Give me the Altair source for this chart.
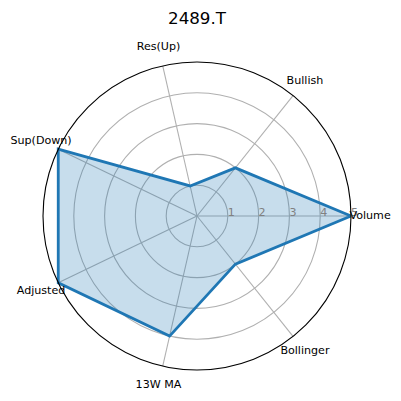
import altair as alt
import pandas as pd

categories = ["Volume", "Bullish", "Res(Up)", "Sup(Down)", "Adjusted", "13W MA", "Bollinger"]
values = [5, 2, 1, 5, 5, 4, 2]
ring_levels = [1, 2, 3, 4]
outer_level = [5]
rtick_values = [1, 2, 3, 4, 5]
rtick_labels = ["1", "2", "3", "4", "5"]
chart_title = "2489.T"

RMAX = 5
LABEL_R = 5.62
N = len(categories)
FONT = "DejaVu Sans"
BLUE = "#1f77b4"
PX_R = 154  # pixel radius of the outer circle

cat_df = pd.DataFrame({"cat": categories, "value": values, "i": list(range(N))})
poly_df = pd.concat([cat_df, cat_df.iloc[[0]].assign(i=N)], ignore_index=True)
rings_df = pd.DataFrame({"r": ring_levels})
outer_df = pd.DataFrame({"r": outer_level})
rtick_df = pd.DataFrame({"r": rtick_values, "lab": rtick_labels})

xs = alt.Scale(domain=[-RMAX, RMAX], nice=False, zero=False)
ys = alt.Scale(domain=[-RMAX, RMAX], nice=False, zero=False)
# circle symbol: diameter = sqrt(size)  ->  size = (2 * radius_px)^2
ss = alt.Scale(type="pow", exponent=2, domain=[0, RMAX], range=[0, (2 * PX_R) ** 2], zero=True, nice=False)

ang = f"datum.i * 2 * PI / {N}"


def ring_layer(df, color):
    return alt.Chart(df).transform_calculate(z="0").mark_point(
        shape="circle", filled=False, color=color, strokeWidth=1.1, opacity=1
    ).encode(
        x=alt.X("z:Q", scale=xs, axis=None),
        y=alt.Y("z:Q", scale=ys, axis=None),
        size=alt.Size("r:Q", scale=ss, legend=None),
    )


rings = ring_layer(rings_df, "#b0b0b0")
outer = ring_layer(outer_df, "#000000")

spokes = alt.Chart(cat_df).transform_calculate(
    ang=ang
).transform_calculate(
    z="0", xe=f"{RMAX} * cos(datum.ang)", ye=f"{RMAX} * sin(datum.ang)"
).mark_rule(color="#b0b0b0", strokeWidth=1.1).encode(
    x=alt.X("z:Q", scale=xs, axis=None),
    y=alt.Y("z:Q", scale=ys, axis=None),
    x2="xe:Q", y2="ye:Q",
)

poly = alt.Chart(poly_df).transform_calculate(
    ang=ang
).transform_calculate(
    px="datum.value * cos(datum.ang)", py="datum.value * sin(datum.ang)"
).mark_line(color=BLUE, strokeWidth=2.8, fill=BLUE, fillOpacity=0.25, strokeJoin="miter").encode(
    x=alt.X("px:Q", scale=xs, axis=None),
    y=alt.Y("py:Q", scale=ys, axis=None),
    order="i:Q",
)

cat_labels = alt.Chart(cat_df).transform_calculate(
    ang=ang
).transform_calculate(
    lx=f"{LABEL_R} * cos(datum.ang)", ly=f"{LABEL_R} * sin(datum.ang)"
).mark_text(font=FONT, fontSize=11.1, align="center", baseline="middle", color="#000000").encode(
    x=alt.X("lx:Q", scale=xs, axis=None),
    y=alt.Y("ly:Q", scale=ys, axis=None),
    text="cat:N",
)

rticks = alt.Chart(rtick_df).transform_calculate(z="0").mark_text(
    font=FONT, fontSize=11.1, align="left", baseline="alphabetic", color="#808080", dx=0, dy=-0.5
).encode(
    x=alt.X("r:Q", scale=xs, axis=None),
    y=alt.Y("z:Q", scale=ys, axis=None),
    text="lab:N",
)

chart = alt.layer(rings, spokes, poly, outer, rticks, cat_labels).properties(
    width=308, height=308,
    title=alt.TitleParams(chart_title, fontSize=16.7, font=FONT, fontWeight="normal",
                          anchor="middle", color="#000000", offset=14),
    autosize=alt.AutoSizeParams(type="none"),
    padding={"left": 35, "top": 54, "right": 42, "bottom": 23},
).configure_view(stroke=None)

chart.save("out.html", embed_options={"renderer": "svg", "actions": False})
